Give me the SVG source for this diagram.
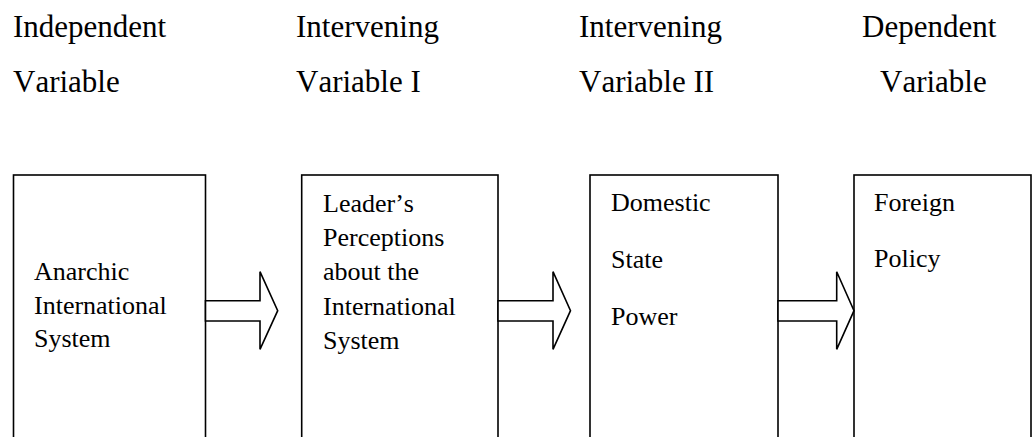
<svg xmlns="http://www.w3.org/2000/svg" width="1033" height="437" viewBox="0 0 1033 437">
<style>
.hdr{font-family:"Liberation Serif","Times New Roman",serif;font-size:31px;fill:#000;font-kerning:none}
.lbl{font-family:"Liberation Serif","Times New Roman",serif;font-size:26px;fill:#000;font-kerning:none}
.box{fill:#fff;stroke:#000;stroke-width:1.6}
.arr{fill:#fff;stroke:#000;stroke-width:1.6;stroke-linejoin:miter}
</style>
<rect width="1033" height="437" fill="#fff"/>
<g id="headers">
<text class="hdr" x="13" y="37">Independent</text>
<text class="hdr" x="13" y="92">Variable</text>
<text class="hdr" x="296" y="37">Intervening</text>
<text class="hdr" x="296" y="92">Variable I</text>
<text class="hdr" x="579" y="37">Intervening</text>
<text class="hdr" x="579" y="92">Variable II</text>
<text class="hdr" x="862" y="37">Dependent</text>
<text class="hdr" x="880" y="92">Variable</text>
</g>
<g id="node-anarchic">
<rect class="box" x="13.5" y="175" width="192" height="300"/>
<text class="lbl" x="34" y="280">Anarchic</text>
<text class="lbl" x="34" y="314">International</text>
<text class="lbl" x="34" y="347">System</text>
</g>
<g id="node-perceptions">
<rect class="box" x="301.7" y="175" width="196.3" height="300"/>
<text class="lbl" x="323" y="212">Leader’s</text>
<text class="lbl" x="323" y="246">Perceptions</text>
<text class="lbl" x="323" y="280">about the</text>
<text class="lbl" x="323" y="315">International</text>
<text class="lbl" x="323" y="349">System</text>
</g>
<g id="node-domestic">
<rect class="box" x="590" y="175" width="188" height="300"/>
<text class="lbl" x="611" y="211">Domestic</text>
<text class="lbl" x="611" y="268">State</text>
<text class="lbl" x="611" y="325">Power</text>
</g>
<g id="node-foreign">
<rect class="box" x="854" y="175" width="177" height="300"/>
<text class="lbl" x="874" y="211">Foreign</text>
<text class="lbl" x="874" y="267">Policy</text>
</g>
<g id="connectors">
<polygon class="arr" points="205.5,300.7 260,300.7 260,271.7 277.7,310.7 260,349.3 260,321 205.5,321"/>
<polygon class="arr" points="498,300.7 553,300.7 553,271.7 570.5,310.7 553,349.3 553,321 498,321"/>
<polygon class="arr" points="778,300.7 836.7,300.7 836.7,271.7 854,310.7 836.7,349.3 836.7,321 778,321"/>
</g>
</svg>
